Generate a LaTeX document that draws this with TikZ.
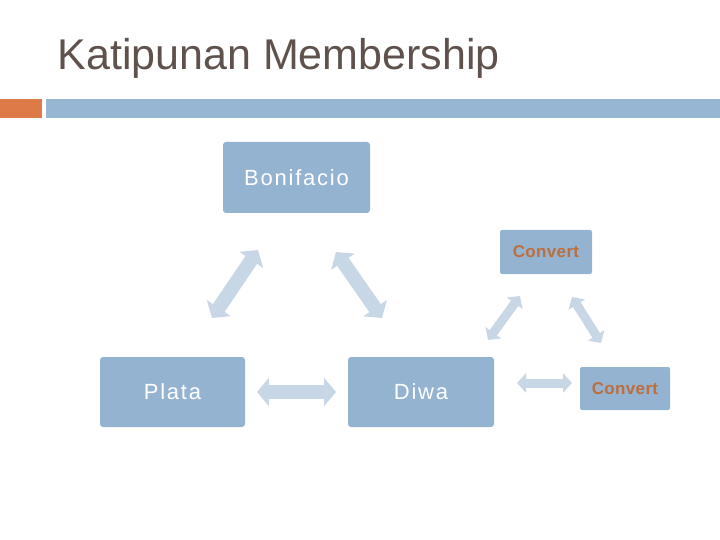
\documentclass[tikz,border=0pt]{standalone}
\usepackage{fontspec}
\setmainfont{Liberation Sans}
\usetikzlibrary{arrows.meta}
\definecolor{boxc}{RGB}{148,179,209}
\definecolor{arrc}{RGB}{200,215,230}
\definecolor{titc}{RGB}{95,82,76}
\definecolor{orc}{RGB}{222,122,72}
\definecolor{barc}{RGB}{150,182,212}
\definecolor{cvc}{RGB}{190,110,60}
\begin{document}
\begin{tikzpicture}[x=1pt,y=-1pt,
  box/.style={fill=boxc,rounded corners=3pt,inner sep=0pt,text=white,font=\fontsize{22}{26}\selectfont\addfontfeature{LetterSpace=8}},
  cbox/.style={fill=boxc,rounded corners=2pt,inner sep=0pt,text=cvc,font=\fontsize{17}{20}\selectfont\bfseries\addfontfeature{LetterSpace=2}},
  fat/.style={draw=arrc,line width=14pt,{Triangle[width=28pt,length=12pt]}-{Triangle[width=28pt,length=12pt]}},
  thin/.style={draw=arrc,line width=9pt,{Triangle[width=19pt,length=9pt]}-{Triangle[width=19pt,length=9pt]}}]
\useasboundingbox (0,0) rectangle (720,540);
\node[anchor=west,text=titc,font=\fontsize{43}{48}\selectfont] (title) at (54,58) {Katipunan Membership};
\fill[orc] (0,99) rectangle (42,118);
\fill[barc] (46,99) rectangle (720,118);
\node[box,minimum width=147pt,minimum height=71pt] (bon) at (296.5,177.5) {Bonifacio};
\node[box,minimum width=145pt,minimum height=70pt] (pla) at (172.5,392) {Plata};
\node[box,minimum width=146pt,minimum height=70pt] (diw) at (421,392) {Diwa};
\node[cbox,minimum width=92pt,minimum height=44pt] (c1) at (546,252) {Convert};
\node[cbox,minimum width=90pt,minimum height=43pt] (c2) at (625,388.5) {Convert};
\coordinate (a1) at (258,250); \coordinate (a2) at (212,318);
\coordinate (b1) at (336,252); \coordinate (b2) at (382,318);
\coordinate (p1) at (257,392); \coordinate (p2) at (336,392);
\coordinate (d1) at (520,296); \coordinate (d2) at (488,340);
\coordinate (e1) at (572,297); \coordinate (e2) at (601,343);
\coordinate (f1) at (517,383); \coordinate (f2) at (572,383);
\draw[fat] (a1) -- (a2);
\draw[fat] (b1) -- (b2);
\draw[fat] (p1) -- (p2);
\draw[thin] (d1) -- (d2);
\draw[thin] (e1) -- (e2);
\draw[thin] (f1) -- (f2);
\end{tikzpicture}
\end{document}
